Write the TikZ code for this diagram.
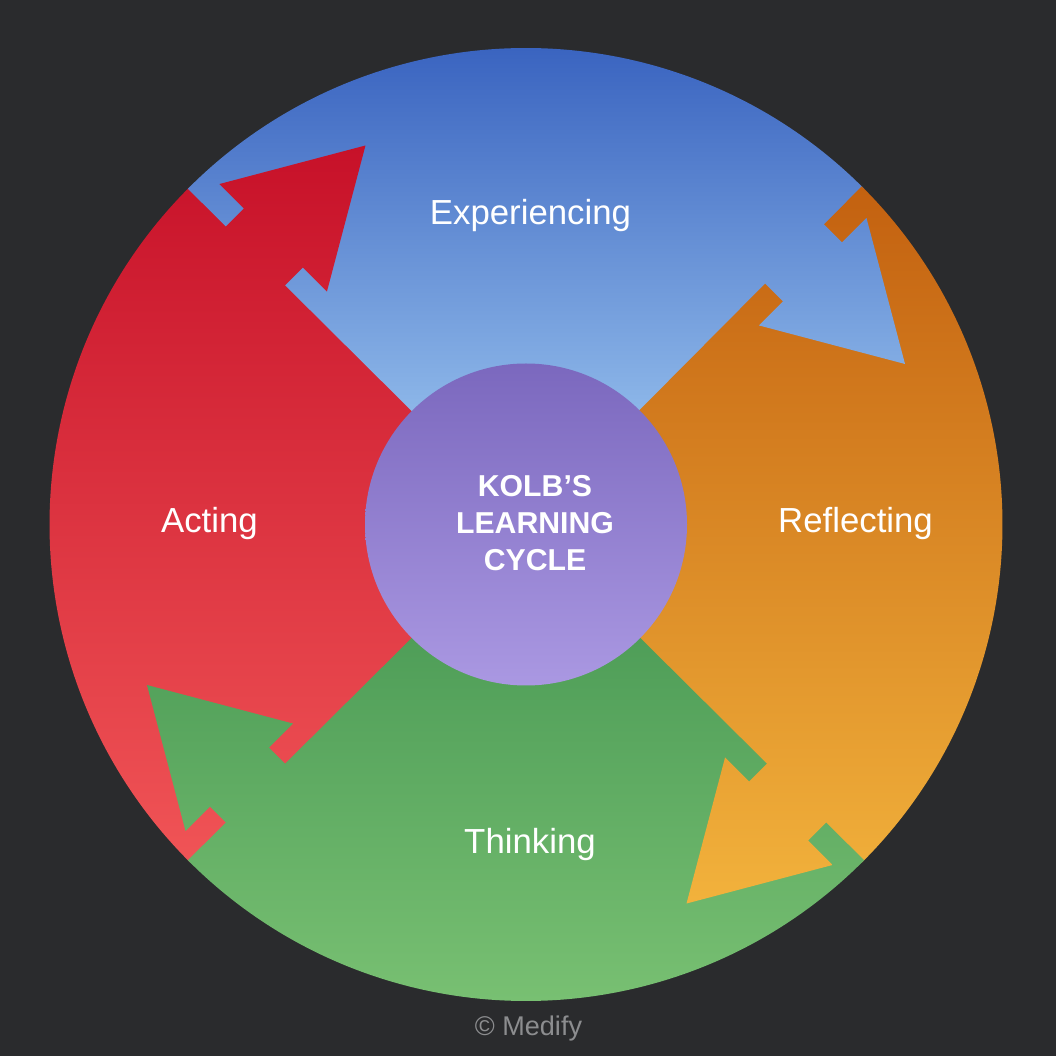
\documentclass[tikz,border=0pt]{standalone}
\usepackage{fontspec}
\setmainfont{Liberation Sans}
\usepackage{tikz}

\definecolor{bg}{RGB}{42,43,45}
\definecolor{bluetop}{RGB}{58,100,192}
\definecolor{bluebot}{RGB}{166,208,245}
\definecolor{redtop}{RGB}{199,17,41}
\definecolor{redbot}{RGB}{240,84,86}
\definecolor{orangetop}{RGB}{195,97,16}
\definecolor{orangebot}{RGB}{242,178,60}
\definecolor{greentop}{RGB}{66,147,80}
\definecolor{greenbot}{RGB}{120,192,114}
\definecolor{hubtop}{RGB}{123,104,190}
\definecolor{hubbot}{RGB}{170,152,226}
\definecolor{credit}{RGB}{140,141,143}

\begin{document}
\begin{tikzpicture}[x=0.1mm,y=0.1mm]
\tikzstyle{stage}=[text=white,font=\fontsize{9.9pt}{12pt}\selectfont,anchor=base,inner sep=0pt]
\tikzstyle{title}=[text=white,font=\fontsize{8.6pt}{10.53pt}\selectfont\bfseries,align=center,inner sep=0pt]
\tikzstyle{creditline}=[text=credit,font=\fontsize{7.7pt}{9pt}\selectfont,anchor=base,inner sep=0pt]

\useasboundingbox (-526,-531.5) rectangle (530,524.5);
\fill[bg] (-526,-531.5) rectangle (530,524.5);

% quarters
\foreach \a/\c/\t/\b in {135/red/379.5/-338,45/blue/476.5/0,-45/orange/338/-379,-135/green/0/-476.5}{
\begin{scope}
\clip (0,0) -- (\a-0.2:476.5) arc[start angle=\a-0.2,end angle=\a+90.2,radius=476.5] -- cycle;
\shade[top color=\c top,bottom color=\c bot] (-530,\t) rectangle (530,\b);
\end{scope}
}

% arrow heads into the next quarter
\foreach \a/\c/\t/\b in {135/red/379.5/-338,45/blue/476.5/0,-45/orange/338/-379,-135/green/0/-476.5}{
\begin{scope}
\clip[rotate=\a] (339.5,5) -- (339.5,-24) -- (305.5,-24) -- (381.5,-154.5)
  -- (457.5,-24) -- (423,-24) -- (423,5) -- cycle;
\shade[top color=\c top,bottom color=\c bot] (-530,\t) rectangle (530,\b);
\end{scope}
}

\shade[top color=hubtop,bottom color=hubbot] (0,0) circle[radius=161];

\node[title] (kolb) at (9,1) {KOLB’S\\LEARNING\\CYCLE};
\node[stage] (experiencing) at (4.5,299.5) {Experiencing};
\node[stage] (reflecting) at (329.5,-8.5) {Reflecting};
\node[stage] (thinking) at (4,-328.5) {Thinking};
\node[stage] (acting) at (-316.5,-8.5) {Acting};
\node[creditline] (medify) at (2.5,-510.5) {© Medify};
\end{tikzpicture}
\end{document}
